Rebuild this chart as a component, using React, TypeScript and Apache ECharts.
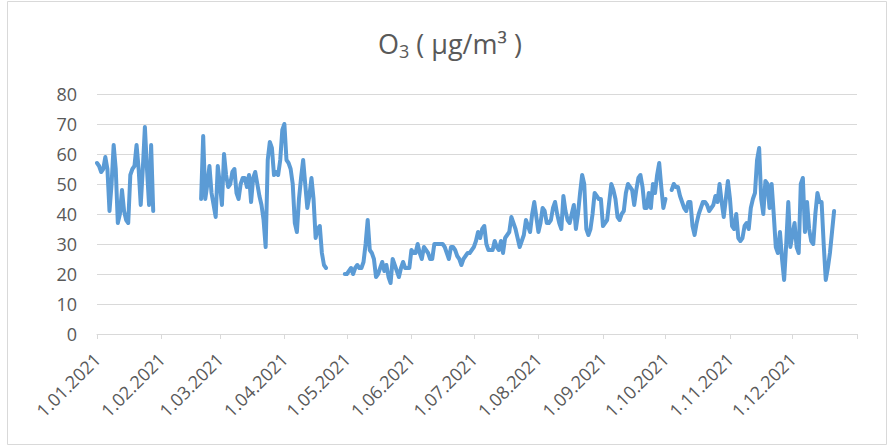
import React, { useEffect, useRef } from "react";
import * as echarts from "echarts";

// Month-start tick labels (1.01.2022 is the axis end, tick only)
const monthLabels = [
  "1.01.2021", "1.02.2021", "1.03.2021", "1.04.2021", "1.05.2021", "1.06.2021",
  "1.07.2021", "1.08.2021", "1.09.2021", "1.10.2021", "1.11.2021", "1.12.2021",
];
const axisEndLabel = "1.01.2022";

// Daily O3 values, µg/m³ (segments separated by missing data)
const januaryStart = "1.01.2021";
const januaryValues = [
  57, 56, 54, 55, 59, 55, 41, 50, 63, 55, 37, 40, 48, 41, 38, 37, 53, 55, 56, 63,
  55, 43, 55, 69, 55, 43, 63, 41,
];

const springStart = "20.02.2021";
const springValues = [
  45, 66, 45, 50, 56, 47, 43, 39, 56, 50,
  43, 60, 53, 49, 50, 54, 55, 47, 45, 50,
  52, 52, 49, 53, 44, 52, 54, 50, 46, 43,
  38, 29, 58, 64, 62, 53, 54, 53, 58, 68,
  70, 58, 57, 55, 50, 37, 34, 45, 52, 58,
  50, 42, 46, 52, 45, 32, 35, 36, 27, 23, 22,
];

const summerStart = "30.04.2021";
const summerValues = [
  20, 20, 21, 22, 20, 22, 23, 22, 22, 24,
  30, 38, 28, 27, 25, 19, 20, 22, 24, 21,
  23, 19, 17, 25, 23, 21, 19, 22, 24, 22,
  22, 22, 28, 27, 27, 30, 27, 25, 29, 28,
  27, 25, 25, 30, 30, 30, 30, 30, 29, 27,
  25, 29, 29, 28, 26, 25, 23, 25, 26, 27,
  27, 28, 29, 31, 34, 32, 35, 36, 30, 28,
  28, 28, 31, 29, 28, 31, 27, 32, 33, 34,
  39, 37, 35, 32, 29, 31, 33, 38, 36, 34,
  40, 44, 39, 34, 37, 42, 41, 37, 37, 38,
  42, 44, 40, 37, 35, 46, 41, 38, 37, 40,
  43, 35, 40, 47, 53, 50, 35, 33, 35, 40,
  47, 46, 45, 45, 36, 37, 38, 44, 50, 48,
  45, 39, 38, 40, 41, 47, 50, 49, 48, 43,
  48, 52, 53, 49, 42, 42, 47, 42, 50, 47,
  53, 57, 49, 42, 45,
];

const autumnStart = "4.10.2021";
const autumnValues = [
  48, 50, 49, 49, 46, 44, 42, 41, 44, 44,
  36, 33, 37, 40, 42, 44, 44, 43, 41, 42,
  43, 46, 44, 50, 44, 39, 45, 51, 45, 36,
  35, 40, 32, 31, 32, 36, 37, 35, 42, 45,
  47, 58, 62, 45, 40, 51, 50, 42, 50, 40,
  29, 27, 34, 25, 18, 30, 44, 29, 33, 37,
  29, 27, 50, 52, 34, 44, 35, 31, 30, 40,
  47, 44, 44, 30, 18, 22, 27, 34, 41,
];

const yTicks = [0, 10, 20, 30, 40, 50, 60, 70, 80];

function fmtDate(d: Date): string {
  return `${d.getUTCDate()}.${String(d.getUTCMonth() + 1).padStart(2, "0")}.${d.getUTCFullYear()}`;
}

function buildCategories(): string[] {
  const cats: string[] = [];
  const start = Date.UTC(2021, 0, 1);
  for (let i = 0; i <= 365; i++) cats.push(fmtDate(new Date(start + i * 86400000)));
  return cats;
}

const FONT = "Open Sans";
const TEXT = "#595959";

export default function App() {
  const ref = useRef<HTMLDivElement>(null);

  useEffect(() => {
    if (!ref.current) return;
    const chart = echarts.init(ref.current, undefined, { renderer: "svg" });
    const categories = buildCategories();
    const data: (number | null)[] = categories.map(() => null);
    const place = (start: string, vals: number[]) => {
      const idx = categories.indexOf(start);
      vals.forEach((v, i) => (data[idx + i] = v));
    };
    place(januaryStart, januaryValues);
    place(springStart, springValues);
    place(summerStart, summerValues);
    place(autumnStart, autumnValues);

    const isMonthStart = (v: string) => monthLabels.includes(v) || v === axisEndLabel;

    chart.setOption({
      animation: false,
      backgroundColor: "#ffffff",
      title: {
        text: "O{s|3}{t| ( µg/m³ )}",
        left: 378,
        top: 26,
        padding: 0,
        textStyle: {
          fontFamily: FONT,
          fontSize: 27,
          fontWeight: "normal",
          color: TEXT,
          lineHeight: 34,
          rich: {
            s: { fontFamily: FONT, fontSize: 18, color: TEXT, lineHeight: 16, verticalAlign: "bottom" },
            t: { fontFamily: FONT, fontSize: 27, color: TEXT, lineHeight: 34 },
          },
        },
      },
      graphic: [
        {
          type: "rect",
          shape: { x: 7.5, y: 1.5, width: 879, height: 443 },
          style: { fill: "none", stroke: "#d9d9d9", lineWidth: 1 },
          silent: true,
        },
      ],
      grid: { left: 97, right: 37, top: 94, bottom: 113, containLabel: false },
      xAxis: {
        type: "category",
        data: categories,
        boundaryGap: false,
        axisLine: { show: true, lineStyle: { color: "#d9d9d9", width: 1 } },
        axisTick: {
          show: true,
          length: 5,
          lineStyle: { color: "#d9d9d9" },
          interval: (_i: number, v: string) => isMonthStart(v),
        },
        axisLabel: {
          rotate: 45,
          margin: 22,
          color: TEXT,
          fontFamily: FONT,
          fontSize: 18,
          interval: (_i: number, v: string) => monthLabels.includes(v),
        },
        splitLine: { show: false },
      },
      yAxis: {
        type: "value",
        min: yTicks[0],
        max: yTicks[yTicks.length - 1],
        interval: 10,
        axisLine: { show: false },
        axisTick: { show: false },
        axisLabel: { color: TEXT, fontFamily: FONT, fontSize: 18, margin: 20 },
        splitLine: { lineStyle: { color: "#d9d9d9", width: 1 } },
      },
      series: [
        {
          type: "line",
          data,
          showSymbol: false,
          connectNulls: false,
          lineStyle: { color: "#5b9bd5", width: 4, join: "round", cap: "round" },
          itemStyle: { color: "#5b9bd5" },
        },
      ],
    });
    return () => chart.dispose();
  }, []);

  return (
    <div
      ref={ref}
      style={{ position: "absolute", left: 0, top: 0, width: 894, height: 447 }}
    />
  );
}
